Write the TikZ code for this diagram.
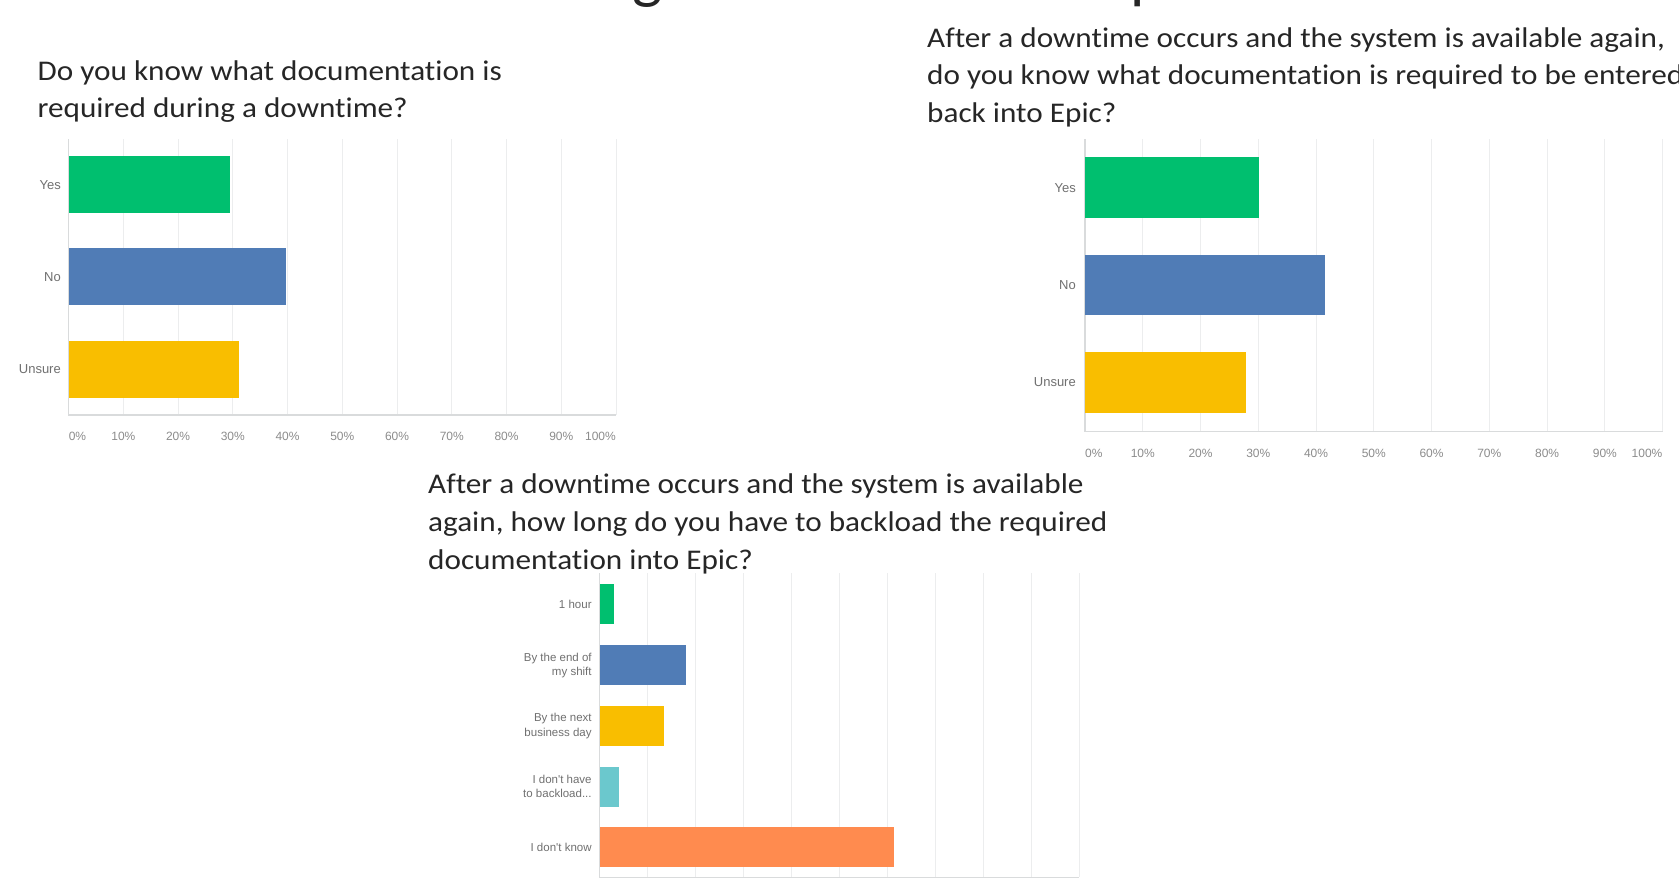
\documentclass[tikz,border=0pt]{standalone}
\usepackage{fontspec}
\setmainfont{Carlito}
\newfontfamily\qfont[FakeStretch=1.095,Ligatures=NoCommon]{Carlito}
\newfontfamily\chartfont{Liberation Sans}
\definecolor{smgreen}{HTML}{00BF6F}
\definecolor{smblue}{HTML}{507CB6}
\definecolor{smyellow}{HTML}{F9BE00}
\definecolor{smteal}{HTML}{6BC8CD}
\definecolor{smorange}{HTML}{FF8B4F}
\definecolor{gridc}{HTML}{ECEDEE}
\definecolor{axisc}{HTML}{D9DBDC}
\definecolor{labc}{HTML}{707070}
\definecolor{tickc}{HTML}{8C8C8C}
\definecolor{titlec}{HTML}{262626}
\begin{document}
\begin{tikzpicture}[x=1pt,y=-1pt,
  qline/.style={anchor=base west, inner sep=0pt, text=titlec, font=\qfont\fontsize{28.5}{37.3}\selectfont},
  glyph/.style={inner sep=0pt, text=titlec, font=\fontsize{64}{64}\selectfont},
  bar/.style={anchor=west, inner sep=0pt, draw=none},
  catlabel/.style={anchor=east, inner sep=0pt, text=labc, align=right, font=\chartfont\fontsize{13}{15}\selectfont},
  smalllabel/.style={anchor=east, inner sep=0pt, text=labc, align=right, font=\chartfont\fontsize{11.5}{14.4}\selectfont},
  ticklabel/.style={inner sep=0pt, text=tickc, font=\chartfont\fontsize{12}{14}\selectfont},
  gridline/.style={draw=gridc, line width=1pt},
  axisline/.style={draw=axisc, line width=1.3pt}]
\useasboundingbox (0,0) rectangle (1679,886);
\fill[white] (0,0) rectangle (1679,886);

% descenders of the cropped slide title
\begin{scope}
\clip (0,0) rectangle (1679,886);
\node[glyph, anchor=base] (tg) at (648,-4) {g};
\node[glyph, anchor=base west] (tp) at (1130,-4) {p};
\end{scope}

% ---------- questions ----------
\begin{scope}
\clip (0,0) rectangle (1679,886);
\node[qline] (q1a) at (37.5,80) {Do you know what documentation is};
\node[qline] (q1b) at (37.5,117.3) {required during a downtime?};
\node[qline] (q2a) at (927,47.3) {After a downtime occurs and the system is available again,};
\node[qline] (q2b) at (927,84.6) {do you know what documentation is required to be entered};
\node[qline] (q2c) at (927,122.4) {back into Epic?};
\node[qline] (q3a) at (428,493.3) {After a downtime occurs and the system is available};
\node[qline] (q3b) at (428,531) {again, how long do you have to backload the required};
\node[qline] (q3c) at (428,569) {documentation into Epic?};
\end{scope}

% ---------- chart 1 ----------
\foreach \i in {0,...,10}{
  \draw[gridline] ({68.6+\i*54.74},139.3) -- ({68.6+\i*54.74},415);
}
\draw[axisline] (68.6,139.3) -- (68.6,415) -- (616,415);
\node[bar, fill=smgreen, minimum width=160.8pt, minimum height=57pt] (c1yes) at (68.6,184.7) {};
\node[bar, fill=smblue, minimum width=216.7pt, minimum height=57pt] (c1no) at (68.6,276.7) {};
\node[bar, fill=smyellow, minimum width=169.8pt, minimum height=57pt] (c1uns) at (68.6,369) {};
\node[catlabel] (c1lyes) at (61,185) {Yes};
\node[catlabel] (c1lno) at (61,277.3) {No};
\node[catlabel] (c1luns) at (61,369.3) {Unsure};
\node[ticklabel, anchor=west] (c1t0) at (68.6,436) {0\%};
\foreach \i in {1,...,9}{
  \node[ticklabel] (c1t\i) at ({68.6+\i*54.74},436) {\i0\%};
}
\node[ticklabel, anchor=east] (c1t10) at (616,436) {100\%};

% ---------- chart 2 ----------
\foreach \i in {0,...,10}{
  \draw[gridline] ({1085+\i*57.76},139.3) -- ({1085+\i*57.76},431.7);
}
\draw[axisline] (1085,139.3) -- (1085,431.7) -- (1662.6,431.7);
\node[bar, fill=smgreen, minimum width=174pt, minimum height=60.4pt] (c2yes) at (1085,187.5) {};
\node[bar, fill=smblue, minimum width=239.4pt, minimum height=60pt] (c2no) at (1085,285) {};
\node[bar, fill=smyellow, minimum width=161pt, minimum height=60.4pt] (c2uns) at (1085,382.5) {};
\node[catlabel] (c2lyes) at (1076,187.7) {Yes};
\node[catlabel] (c2lno) at (1076,285) {No};
\node[catlabel] (c2luns) at (1076,382.3) {Unsure};
\node[ticklabel, anchor=west] (c2t0) at (1085,453.3) {0\%};
\foreach \i in {1,...,9}{
  \node[ticklabel] (c2t\i) at ({1085+\i*57.76},453.3) {\i0\%};
}
\node[ticklabel, anchor=east] (c2t10) at (1662.6,453.3) {100\%};

% ---------- chart 3 ----------
\foreach \i in {0,...,10}{
  \draw[gridline] ({599.5+\i*47.95},573) -- ({599.5+\i*47.95},877.3);
}
\draw[axisline] (599.5,573) -- (599.5,877.3) -- (1079,877.3);
\node[bar, fill=smgreen, minimum width=14.2pt, minimum height=40pt] (c3a) at (599.5,604) {};
\node[bar, fill=smblue, minimum width=86.1pt, minimum height=40pt] (c3b) at (599.5,665) {};
\node[bar, fill=smyellow, minimum width=63.9pt, minimum height=40pt] (c3c) at (599.5,725.7) {};
\node[bar, fill=smteal, minimum width=19.5pt, minimum height=40pt] (c3d) at (599.5,786.7) {};
\node[bar, fill=smorange, minimum width=294.7pt, minimum height=40pt] (c3e) at (599.5,846.7) {};
\node[smalllabel] (c3la) at (591.8,604) {1 hour};
\node[smalllabel] (c3lb) at (591.8,665.5) {By the end of\\my shift};
\node[smalllabel] (c3lc) at (591.8,726.2) {By the next\\business day};
\node[smalllabel] (c3ld) at (591.8,786.5) {I don't have\\to backload...};
\node[smalllabel] (c3le) at (591.8,847.7) {I don't know};
\end{tikzpicture}
\end{document}
